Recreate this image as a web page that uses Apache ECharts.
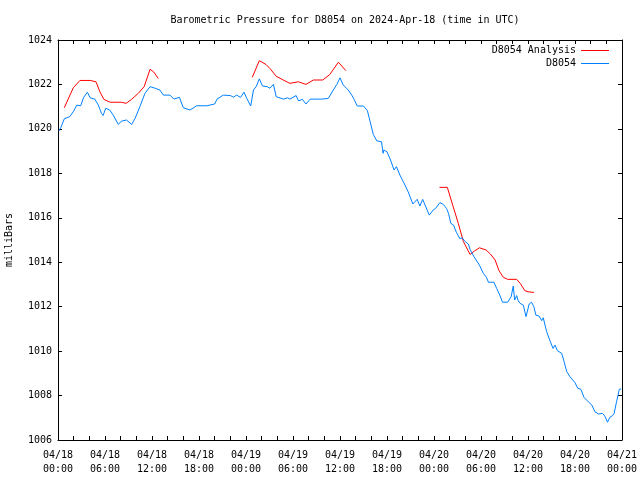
<!DOCTYPE html>
<html>
<head>
<meta charset="utf-8">
<script src="https://cdn.jsdelivr.net/npm/echarts@6/dist/echarts.min.js"></script>
<style>html,body{margin:0;padding:0;background:#fff;}#c{width:640px;height:480px;}</style>
</head>
<body>
<div id="c"></div>
<script>
var titleText = 'Barometric Pressure for D8054 on 2024-Apr-18 (time in UTC)';
var yAxisName = 'milliBars';
var seriesNames = ['D8054 Analysis', 'D8054'];
var xTickLabels = ['04/18\n00:00','04/18\n06:00','04/18\n12:00','04/18\n18:00','04/19\n00:00','04/19\n06:00','04/19\n12:00','04/19\n18:00','04/20\n00:00','04/20\n06:00','04/20\n12:00','04/20\n18:00','04/21\n00:00'];

// hours since 2024-04-18 00:00 UTC
var obsHours = [0.1,0.35,0.8,1.5,2.0,2.4,2.9,3.25,3.75,4.1,4.7,5.15,5.55,5.75,6.1,6.6,7.05,7.7,8.1,8.75,9.4,9.85,10.45,11.1,11.75,12.4,13.0,13.45,14.3,14.8,15.5,16.0,16.85,17.7,19.0,19.2,20.0,20.3,21.1,22.0,22.4,22.8,23.3,23.75,24.1,24.6,24.95,25.3,25.7,26.1,26.7,27.05,27.5,27.85,28.8,29.3,29.6,30.4,30.7,31.2,31.65,32.2,33.65,33.9,34.5,35.15,35.6,36.0,36.4,37.05,37.5,37.8,38.2,39.0,39.5,39.85,40.25,40.7,41.3,41.5,41.6,42.0,42.45,42.9,43.2,43.65,43.9,44.3,44.7,45.3,45.55,45.85,46.2,46.55,46.8,47.4,47.9,48.2,48.75,49.2,49.6,49.85,50.15,50.5,50.85,51.3,51.6,51.96,52.38,52.6,52.8,53.1,53.3,53.8,54.3,54.7,54.95,55.65,56.0,56.4,56.75,57.4,57.85,58.12,58.3,58.55,58.75,58.98,59.4,59.75,60.15,60.45,60.75,61.0,61.4,61.75,61.95,62.38,62.8,63.2,63.45,63.75,64.3,64.6,64.95,65.35,66.0,66.35,66.75,67.15,67.7,68.15,68.55,69.0,69.5,69.8,70.15,70.45,70.8,71.0,71.3,71.5,71.65,71.9];
var obsValues = [1019.9,1020.05,1020.45,1020.55,1020.8,1021.07,1021.04,1021.4,1021.65,1021.4,1021.34,1021.07,1020.7,1020.6,1020.93,1020.85,1020.62,1020.2,1020.35,1020.4,1020.2,1020.48,1021.0,1021.6,1021.9,1021.83,1021.75,1021.52,1021.52,1021.34,1021.42,1020.95,1020.85,1021.04,1021.04,1021.12,1021.12,1021.34,1021.52,1021.5,1021.43,1021.52,1021.42,1021.65,1021.37,1021.03,1021.75,1021.9,1022.25,1021.93,1021.9,1021.83,1022.0,1021.45,1021.34,1021.4,1021.34,1021.5,1021.26,1021.33,1021.12,1021.34,1021.34,1021.26,1021.37,1021.75,1022.0,1022.3,1021.98,1021.75,1021.52,1021.33,1021.03,1021.03,1020.82,1020.32,1019.75,1019.46,1019.42,1018.9,1019.05,1018.97,1018.6,1018.15,1018.3,1017.92,1017.9,1017.47,1017.17,1016.62,1016.6,1016.83,1016.53,1016.83,1016.8,1016.12,1016.35,1016.42,1016.68,1016.6,1016.42,1016.2,1015.75,1015.67,1015.35,1015.06,1015.1,1014.93,1014.82,1014.58,1014.6,1014.25,1014.22,1013.87,1013.5,1013.32,1013.1,1013.1,1012.82,1012.52,1012.2,1012.2,1012.45,1012.93,1012.3,1012.5,1012.27,1012.15,1012.07,1011.55,1012.12,1012.2,1012.0,1011.62,1011.58,1011.37,1011.5,1010.87,1010.47,1010.12,1010.27,1010.02,1009.9,1009.53,1009.08,1008.85,1008.58,1008.33,1008.28,1007.92,1007.72,1007.57,1007.27,1007.17,1007.2,1007.08,1006.8,1007.02,1007.1,1007.2,1007.72,1008.02,1008.28,1008.3];

// analysis runs, separated by null gaps
var anaHours = [0.8,1.95,2.8,4.1,4.85,5.35,5.85,6.65,8.1,8.7,9.4,10.25,11.0,11.75,12.2,12.8,
  18.0,
  24.8,25.7,26.55,27.05,27.85,28.75,29.6,30.7,31.65,32.6,33.8,34.7,35.8,36.75,
  42.0,
  48.7,49.7,50.45,51.1,51.75,52.6,53.15,53.8,54.65,55.2,55.8,56.3,56.85,57.4,58.55,59.0,59.6,60.0,60.75];
var anaValues = [1020.95,1021.85,1022.18,1022.18,1022.12,1021.67,1021.33,1021.2,1021.2,1021.15,1021.33,1021.6,1021.9,1022.68,1022.57,1022.27,
  null,
  1022.32,1023.07,1022.9,1022.72,1022.37,1022.2,1022.05,1022.12,1022.0,1022.2,1022.2,1022.45,1023.0,1022.62,
  null,
  1017.37,1017.37,1016.5,1015.75,1014.93,1014.35,1014.5,1014.65,1014.55,1014.37,1014.1,1013.62,1013.32,1013.23,1013.23,1013.05,1012.72,1012.67,1012.64];

function pairs(xs, ys){ return xs.map(function(x,i){ return [x, ys[i]]; }); }

var FONT = 'DejaVu Sans Mono';
var chart = echarts.init(document.getElementById('c'), null, {renderer:'canvas'});
var tickStyle = {show:true, inside:true, length:4, lineStyle:{color:'#000', width:1}};
var minorStyle = {show:true, splitNumber:3, length:4, lineStyle:{color:'#000', width:1}};
chart.setOption({
  animation:false,
  backgroundColor:'#fff',
  title:{text:titleText, left:340, textAlign:'center', top:10,
    textStyle:{fontFamily:FONT, fontSize:10, fontWeight:'normal', color:'#000'}},
  legend:{data:seriesNames, orient:'vertical', align:'right', right:26, top:39,
    icon:'rect', itemWidth:28, itemHeight:1, itemGap:0,
    textStyle:{fontFamily:FONT, fontSize:10, color:'#000', lineHeight:13}},
  grid:{left:58, right:18, top:40, bottom:40, containLabel:false, outerBoundsMode:'none'},
  xAxis:[{type:'value', min:0, max:72, interval:6, position:'bottom',
      axisLine:{show:true, onZero:false, lineStyle:{color:'#000', width:1}},
      axisTick:tickStyle, minorTick:minorStyle, splitLine:{show:false},
      axisLabel:{margin:8, fontFamily:FONT, fontSize:10, color:'#000', lineHeight:14,
        formatter:function(v){ return xTickLabels[Math.round(v/6)]; }}},
    {type:'value', min:0, max:72, interval:6, position:'top',
      axisLine:{show:true, onZero:false, lineStyle:{color:'#000', width:1}},
      axisTick:tickStyle, minorTick:minorStyle, splitLine:{show:false},
      axisLabel:{show:false}}],
  yAxis:[{type:'value', min:1006, max:1024, interval:2, position:'left',
      name:yAxisName, nameLocation:'middle', nameGap:44, nameRotate:90,
      nameTextStyle:{fontFamily:FONT, fontSize:10, color:'#000'},
      axisLine:{show:true, onZero:false, lineStyle:{color:'#000', width:1}},
      axisTick:tickStyle, splitLine:{show:false},
      axisLabel:{margin:6, fontFamily:FONT, fontSize:10, color:'#000',
        formatter:function(v){ return String(v); }}},
    {type:'value', min:1006, max:1024, interval:2, position:'right',
      axisLine:{show:true, onZero:false, lineStyle:{color:'#000', width:1}},
      axisTick:tickStyle, splitLine:{show:false}, axisLabel:{show:false}}],
  series:[
    {name:seriesNames[0], type:'line', data:pairs(anaHours, anaValues), connectNulls:false,
      symbol:'none', lineStyle:{color:'#ff0000', width:1}, itemStyle:{color:'#ff0000'}, z:2},
    {name:seriesNames[1], type:'line', data:pairs(obsHours, obsValues),
      symbol:'none', lineStyle:{color:'#0080ff', width:1}, itemStyle:{color:'#0080ff'}, z:3}
  ]
});
</script>
</body>
</html>
